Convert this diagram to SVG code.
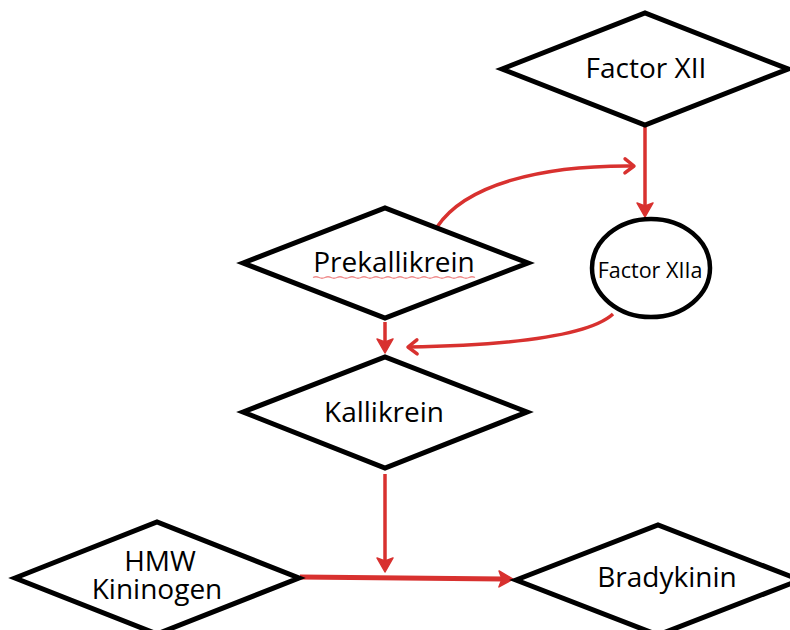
<svg xmlns="http://www.w3.org/2000/svg" width="790" height="630" viewBox="0 0 790 630">
  <style>
    .shape { fill: #ffffff; stroke: #000000; stroke-width: 5; stroke-linejoin: miter; }
    .lbl { font-family: "Open Sans", "Liberation Sans", sans-serif; font-size: 28px; fill: #000000; text-anchor: middle; }
    .small { font-size: 21.5px; }
    .conn { fill: none; stroke: #d8312f; stroke-width: 3.5; }
    .thick { stroke-width: 5; }
  </style>
  <defs>
    <marker id="headFill" markerUnits="userSpaceOnUse" viewBox="-6 -10 20 20" refX="0" refY="0" markerWidth="20" markerHeight="20" orient="auto">
      <path d="M10,0 L-4,-8 L-1,0 L-4,8 Z" fill="#d8312f" stroke="#d8312f" stroke-width="1.5" stroke-linejoin="round"/>
    </marker>
    <marker id="headOpen" markerUnits="userSpaceOnUse" viewBox="-14 -10 18 20" refX="0" refY="0" markerWidth="18" markerHeight="20" orient="auto">
      <path d="M-9,-7 L0,0 L-9,7" fill="none" stroke="#d8312f" stroke-width="3.5" stroke-linecap="round" stroke-linejoin="round"/>
    </marker>
  </defs>
  <rect width="790" height="630" fill="#ffffff"/>

  <g id="connectors">
    <line class="conn" x1="645" y1="127" x2="645" y2="207" marker-end="url(#headFill)"/>
    <path class="conn" d="M437,227 C465,185 540,165 634,166" marker-end="url(#headOpen)"/>
    <path class="conn" d="M613,314 C590,335 520,345 408,347" marker-end="url(#headOpen)"/>
    <line class="conn" x1="385" y1="322" x2="385" y2="343" marker-end="url(#headFill)"/>
    <line class="conn" x1="385" y1="474" x2="385" y2="562" marker-end="url(#headFill)"/>
    <line class="conn thick" x1="300" y1="577" x2="503" y2="579" marker-end="url(#headFill)"/>
  </g>

  <g id="factor-xii">
    <polygon class="shape" points="502,69 645,13 788,69 645,125"/>
    <text class="lbl" x="646" y="78">Factor XII</text>
  </g>

  <g id="prekallikrein">
    <polygon class="shape" points="243,263 385,208 528,263 385,318"/>
    <text class="lbl" x="394" y="272">Prekallikrein</text>
    <path d="M313,277.5 Q316,276 319,277.5 T325,277.5 T331,277.5 T337,277.5 T343,277.5 T349,277.5 T355,277.5 T361,277.5 T367,277.5 T373,277.5 T379,277.5 T385,277.5 T391,277.5 T397,277.5 T403,277.5 T409,277.5 T415,277.5 T421,277.5 T427,277.5 T433,277.5 T439,277.5 T445,277.5 T451,277.5 T457,277.5 T463,277.5 T469,277.5 T475,277.5" fill="none" stroke="#f08c8c" stroke-width="1.3"/>
  </g>

  <g id="factor-xiia">
    <ellipse cx="651" cy="268" rx="59" ry="49" fill="#ffffff" stroke="#000000" stroke-width="4.5"/>
    <text class="lbl small" x="650" y="278">Factor XIIa</text>
  </g>

  <g id="kallikrein">
    <polygon class="shape" points="243,412 385,357 527,412 385,468"/>
    <text class="lbl" x="384" y="422">Kallikrein</text>
  </g>

  <g id="hmw-kininogen">
    <polygon class="shape" points="15,578 157,522 299,578 157,634"/>
    <text class="lbl" x="160" y="571">HMW</text>
    <text class="lbl" x="157" y="599">Kininogen</text>
  </g>

  <g id="bradykinin">
    <polygon class="shape" points="516,580 658,525 800,580 658,635"/>
    <text class="lbl" x="667" y="587">Bradykinin</text>
  </g>
</svg>
